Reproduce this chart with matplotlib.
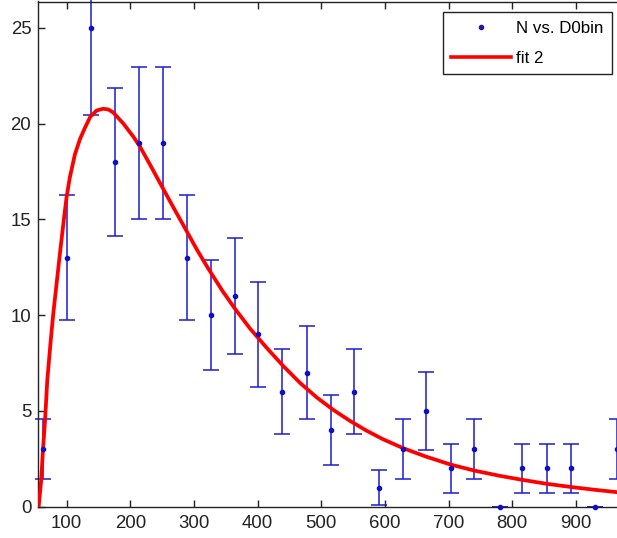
import matplotlib
matplotlib.use("Agg")
import matplotlib.pyplot as plt
from matplotlib import font_manager
from matplotlib.lines import Line2D

# bin centres, counts and error bars
bin_x = [63, 100, 138, 176, 214, 251, 289, 327, 364, 401, 439, 478, 515,
         552, 591, 629, 664, 704, 740, 780, 816, 854, 893, 930, 964]
counts = [3, 13, 25, 18, 19, 19, 13, 10, 11, 9, 6, 7, 4,
          6, 1, 3, 5, 2, 3, 0, 2, 2, 2, 0, 3]
errs = [1.58, 3.28, 4.55, 3.86, 3.97, 3.97, 3.28, 2.88, 3.02, 2.73, 2.23, 2.41, 1.82,
        2.23, 0.91, 1.58, 2.03, 1.29, 1.58, 0, 1.29, 1.29, 1.29, 0, 1.58]

# fitted curve
fit_x = [56, 60, 63, 66, 69.5, 75, 79, 83, 90, 97, 100, 105, 113, 121, 129, 137,
         147, 157, 165, 173, 189, 205, 215, 231, 249, 268, 289, 304, 322, 345,
         364, 388, 414, 440, 467, 493, 519, 545, 571, 597, 629, 664, 703, 741,
         779, 816, 853, 892, 930, 964, 1000]
fit_y = [0, 1.4, 3.1, 4.5, 6.6, 8.7, 10.1, 11.3, 13.4, 15.4, 16.2, 17.2, 18.4,
         19.2, 19.8, 20.35, 20.68, 20.77, 20.74, 20.58, 20.0, 19.3, 18.8, 17.85,
         16.75, 15.6, 14.35, 13.45, 12.45, 11.25, 10.35, 9.3, 8.3, 7.35, 6.45, 5.7,
         5.05, 4.48, 3.97, 3.52, 3.05, 2.62, 2.2, 1.88, 1.62, 1.4, 1.2, 1.03,
         0.88, 0.76, 0.65]

names = {f.name for f in font_manager.fontManager.ttflist}
font = 'Liberation Sans Narrow' if 'Liberation Sans Narrow' in names else 'Liberation Sans'
plt.rcParams['font.family'] = [font, 'DejaVu Sans']

W, H = 617, 538
fig = plt.figure(figsize=(W / 100, H / 100), dpi=100)
# axes runs off the right edge, like the cropped original
ax = fig.add_axes([38.3 / W, 31.3 / H, (639.6 - 38.3) / W, (506.7 - 1.5) / H])

blue = '#1c1ccc'
ax.errorbar(bin_x, counts, yerr=errs, fmt='none', ecolor=blue, elinewidth=1.1,
            capsize=5.5, capthick=1.1, zorder=2, clip_on=False)
ax.plot(fit_x, fit_y, '-', color='red', lw=2.7, zorder=3)
ax.plot(bin_x, counts, '.', color='#1010c0', ms=6, zorder=4, clip_on=False)

ax.set_xlim(55.4, 1000)
ax.set_ylim(0, 26.37)
ax.set_xticks(range(100, 901, 100))
ax.set_yticks(range(0, 26, 5))
ax.tick_params(direction='in', length=5, width=1, top=True, right=True,
               labelsize=13.4, colors='#222222')
ax.tick_params(axis='x', pad=6)
ax.tick_params(axis='y', pad=5)
for s in ax.spines.values():
    s.set_linewidth(1)
    s.set_color('#222222')

handles = [Line2D([], [], ls='none', marker='.', color='#3010a0', ms=6),
           Line2D([], [], color='red', lw=2.6)]
leg = fig.legend(handles, ['N vs. D0bin', 'fit 2'], loc='upper right',
                 bbox_to_anchor=(611.7 / W, 1 - 12.3 / H), borderaxespad=0,
                 fancybox=False, edgecolor='#222222', framealpha=1,
                 fontsize=12.2, handlelength=3.5, handletextpad=0.3,
                 labelspacing=0.9, borderpad=0.5)
leg.get_frame().set_linewidth(1)

fig.savefig('out.png', dpi=100)
